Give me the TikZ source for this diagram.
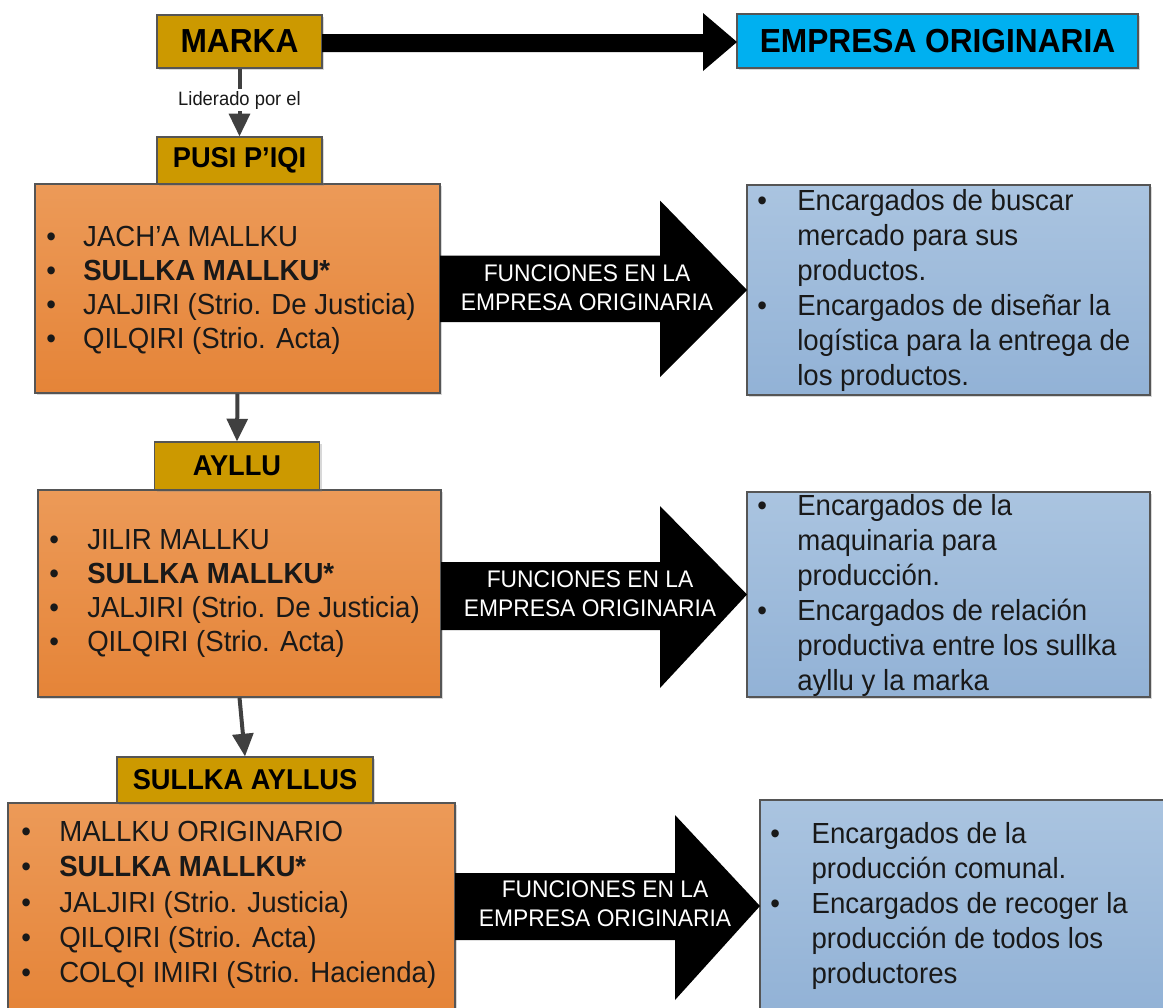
\documentclass[tikz,border=0pt]{standalone}
\usepackage{fontspec}
\setmainfont{Liberation Sans}[FakeStretch=0.95]
\usetikzlibrary{arrows.meta,shadows}
\definecolor{gold}{RGB}{204,153,0}
\definecolor{cyanbox}{RGB}{0,176,240}
\definecolor{orTop}{RGB}{236,154,88}
\definecolor{orBot}{RGB}{229,132,56}
\definecolor{blTop}{RGB}{170,196,224}
\definecolor{blBot}{RGB}{146,178,214}
\definecolor{edgecol}{RGB}{85,85,85}
\definecolor{conncol}{RGB}{64,64,64}
\definecolor{txtcol}{RGB}{25,25,25}
\newcommand\bitem[1]{\makebox[#1][l]{\textbullet}}
\begin{document}
\begin{tikzpicture}[x=0.75pt,y=-0.75pt,
  basebox/.style={draw=edgecol, line width=0.9pt, inner sep=0pt,
    drop shadow={shadow xshift=1.5pt,shadow yshift=-1.5pt,opacity=0.3}},
  goldbox/.style={basebox, fill=gold, font=\bfseries\fontsize{21.5}{24}\selectfont},
  bigfont/.style={font=\bfseries\fontsize{25}{28}\selectfont},
  orangebox/.style={basebox, top color=orTop, bottom color=orBot},
  bluebox/.style={basebox, top color=blTop, bottom color=blBot},
  listtxt/.style={align=left, inner sep=0pt, text=txtcol, anchor=north west,
    font=\fontsize{21.8}{25.5}\selectfont},
  fattxt/.style={align=center, inner sep=0pt, text=white,
    font=\fontsize{18}{21.75}\selectfont},
  connector/.style={draw=conncol, line width=3pt,
    -{Triangle[length=17pt,width=15.5pt]}},
  connlbl/.style={fill=white, inner sep=1.5pt, text=txtcol,
    font=\fontsize{14.5}{17}\selectfont}
]
\useasboundingbox (0,0) rectangle (1163,1007);
\fill[white] (0,0) rectangle (1163,1007);

% boxes
\node (o1) [orangebox, minimum width=303.75pt, minimum height=156.75pt] at (237.5,288.5) {};
\node (o2) [orangebox, minimum width=302.25pt, minimum height=155.25pt] at (239.5,593.5) {};
\node (o3) [orangebox, minimum width=335.25pt, minimum height=157.5pt] at (231.5,908) {};
\node (b1) [bluebox, minimum width=302.25pt, minimum height=157.5pt] at (948.5,290) {};
\node (b2) [bluebox, minimum width=302.25pt, minimum height=153.75pt] at (948.5,594.5) {};
\node (b3) [bluebox, minimum width=303.75pt, minimum height=159pt] at (962.5,906) {};

\node (marka) [goldbox, bigfont, minimum width=123.75pt, minimum height=39.75pt] at (239.5,41.5) {MARKA};
\node (emp) [basebox, fill=cyanbox, bigfont, minimum width=300.75pt, minimum height=40.5pt] at (937.5,41) {EMPRESA ORIGINARIA};
\node (pusi) [goldbox, minimum width=123.75pt, minimum height=35.25pt] at (239.5,160.5) {PUSI P’IQI};
\node (ayllu) [goldbox, minimum width=123.75pt, minimum height=36pt] at (237,466) {AYLLU};
\node (sa) [goldbox, minimum width=192pt, minimum height=34.5pt] at (245,780) {SULLKA AYLLUS};

% big black arrows
\fill[black] (322,34) -- (703,34) -- (703,13) -- (737,42) -- (703,71) -- (703,52) -- (322,52) -- cycle;
\fill[black] (440,255.5) -- (660,255.5) -- (660,200.5) -- (747,290) -- (660,377) -- (660,322) -- (440,322) -- cycle;
\fill[black] (441,562) -- (660,562) -- (660,506) -- (747,594.5) -- (660,688) -- (660,630) -- (441,630) -- cycle;
\fill[black] (455,873) -- (675,873) -- (675,815) -- (760,906) -- (675,1000) -- (675,940) -- (455,940) -- cycle;

\node (f1) [fattxt] at (587,288) {FUNCIONES EN LA\\EMPRESA ORIGINARIA};
\node (f2) [fattxt] at (590,594) {FUNCIONES EN LA\\EMPRESA ORIGINARIA};
\node (f3) [fattxt] at (605,904) {FUNCIONES EN LA\\EMPRESA ORIGINARIA};

% connectors
\draw[connector] (marka.south) -- node[connlbl, pos=0.47] {Liderado por el} (pusi.north);
\draw[connector] (o1.south) -- (ayllu.north);
\draw[connector] (o2.south) -- (sa.north);

% lists
\node (t1) [listtxt] at (46,226) {\bitem{27.75pt}JACH’A MALLKU\\
\bitem{27.75pt}\textbf{SULLKA MALLKU*}\\
\bitem{27.75pt}JALJIRI (Strio. De Justicia)\\
\bitem{27.75pt}QILQIRI (Strio. Acta)};
\node (t2) [listtxt] at (49,529) {\bitem{28.5pt}JILIR MALLKU\\
\bitem{28.5pt}\textbf{SULLKA MALLKU*}\\
\bitem{28.5pt}JALJIRI (Strio. De Justicia)\\
\bitem{28.5pt}QILQIRI (Strio. Acta)};
\node (t3) [listtxt, font=\fontsize{21.8}{26.5}\selectfont] at (21,821) {\bitem{28.5pt}MALLKU ORIGINARIO\\
\bitem{28.5pt}\textbf{SULLKA MALLKU*}\\
\bitem{28.5pt}JALJIRI (Strio. Justicia)\\
\bitem{28.5pt}QILQIRI (Strio. Acta)\\
\bitem{28.5pt}COLQI IMIRI (Strio. Hacienda)};

\node (u1) [listtxt, font=\fontsize{21.8}{26.25}\selectfont] at (757,189) {\bitem{30pt}Encargados de buscar\\
\hspace*{30pt}mercado para sus\\
\hspace*{30pt}productos.\\
\bitem{30pt}Encargados de diseñar la\\
\hspace*{30pt}logística para la entrega de\\
\hspace*{30pt}los productos.};
\node (u2) [listtxt, font=\fontsize{21.8}{26.25}\selectfont] at (757,494) {\bitem{30pt}Encargados de la\\
\hspace*{30pt}maquinaria para\\
\hspace*{30pt}producción.\\
\bitem{30pt}Encargados de relación\\
\hspace*{30pt}productiva entre los sullka\\
\hspace*{30pt}ayllu y la marka};
\node (u3) [listtxt, font=\fontsize{21.8}{26.25}\selectfont] at (770,822) {\bitem{31pt}Encargados de la\\
\hspace*{31pt}producción comunal.\\
\bitem{31pt}Encargados de recoger la\\
\hspace*{31pt}producción de todos los\\
\hspace*{31pt}productores};
\end{tikzpicture}
\end{document}
